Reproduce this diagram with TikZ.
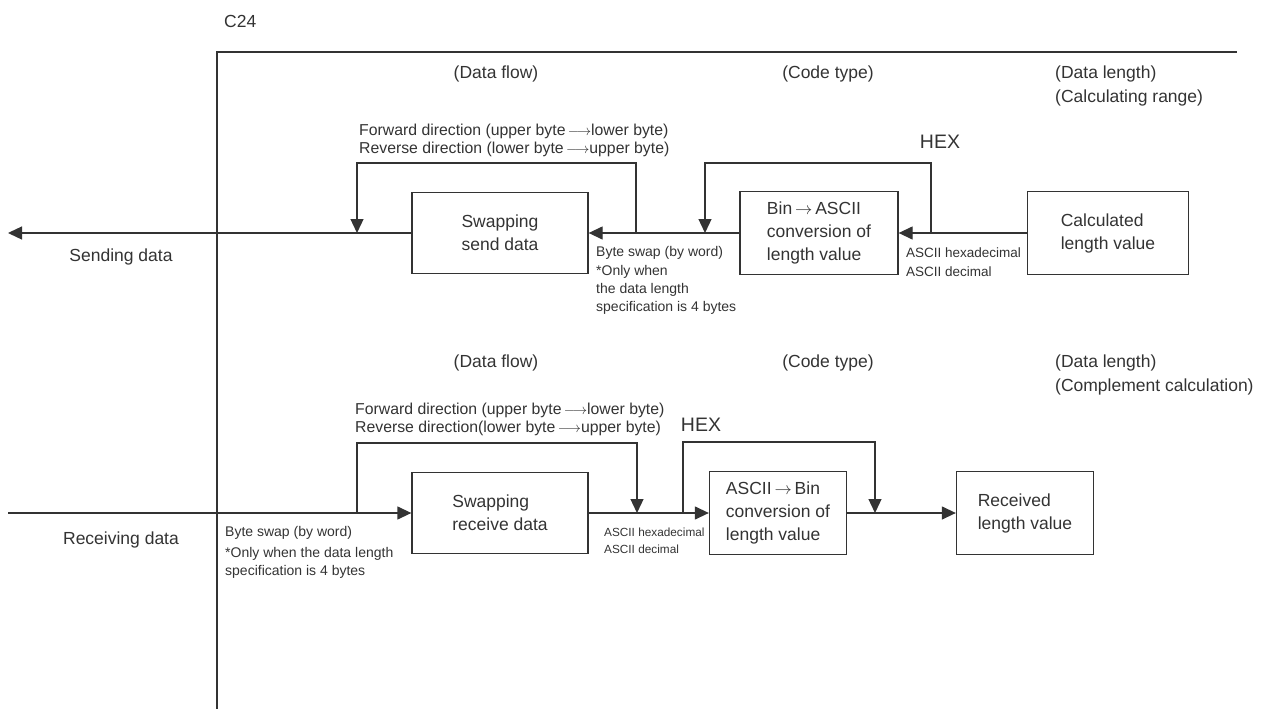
\documentclass[tikz,border=0pt]{standalone}
\usepackage{fontspec}
\setmainfont{Liberation Sans}
\usetikzlibrary{arrows.meta,positioning}
\tikzset{
  ln/.style={line width=1.3pt},
  arr/.style={ln, -{Triangle[length=14pt,width=13pt]}},
  blk/.style={draw, ln, inner sep=0pt, align=left,
              font=\fontsize{17.5}{23}\selectfont},
  head/.style={inner sep=0pt, align=left, font=\fontsize{17.5}{24}\selectfont},
  hextxt/.style={inner sep=0pt, font=\fontsize{19.5}{22}\selectfont},
  dirtxt/.style={inner sep=0pt, anchor=west, align=left,
                 font=\fontsize{15.8}{18}\selectfont},
  notetxt/.style={inner sep=0pt, anchor=west, align=left,
                  font=\fontsize{14}{18}\selectfont},
  codetxt/.style={inner sep=0pt, anchor=west, align=left,
                  font=\fontsize{13.5}{18.5}\selectfont},
}
\begin{document}
\begin{tikzpicture}[x=1pt,y=-1pt,color=black!80]
  \useasboundingbox (0,0) rectangle (1267,709);

  % frame of the C24
  \node[head,anchor=west] (c24) at (224,21) {C24};
  \draw[ln] (217,709) -- (217,52) -- (1237,52);

  % ---- sending side
  \node[head] (hflow1) at (496,74) {(Data flow)};
  \node[head] (hcode1) at (828,74) {(Code type)};
  \node[head,anchor=west] (hlen1) at (1055,86) {(Data length)\\(Calculating range)};

  \node[blk, minimum width=176, minimum height=81] (sendsw) at (500,233) {Swapping\\send data};
  \node[blk, minimum width=158, minimum height=83] (b2a) at (819,233) {Bin$\,\rightarrow\,$ASCII\\conversion of\\length value};
  \node[blk, minimum width=161, minimum height=83] (calc) at (1108,233) {Calculated\\length value};

  \coordinate (sendend) at (8,233);
  \coordinate (swin1) at (357,233);
  \coordinate (swout1) at (636,233);
  \coordinate (hexin1) at (705,233);
  \coordinate (hexout1) at (931,233);

  \draw[arr] (sendsw.west) -- (sendend);
  \draw[arr] (b2a.west) -- (sendsw.east);
  \draw[arr] (calc.west) -- (b2a.east);
  \draw[arr] (swout1) -- ++(0,-70) -| (swin1);
  \draw[arr] (hexout1) -- ++(0,-70) -| (hexin1);

  \node[hextxt] (hex1) at (940,142) {HEX};
  \node[dirtxt] (dir1) at (359,140) {Forward direction (upper byte$\,\longrightarrow$lower byte)\\Reverse direction (lower byte$\,\longrightarrow$upper byte)};
  \node[notetxt] (swap1) at (596,253) {Byte swap (by word)};
  \node[notetxt] (only1) at (596,290) {*Only when\\the data length\\specification is 4 bytes};
  \node[codetxt] (asc1) at (906,262) {ASCII hexadecimal\\ASCII decimal};
  \node[head] (send) at (121,257) {Sending data};

  % ---- receiving side
  \node[head] (hflow2) at (496,363) {(Data flow)};
  \node[head] (hcode2) at (828,363) {(Code type)};
  \node[head,anchor=west] (hlen2) at (1055,375) {(Data length)\\(Complement calculation)};

  \node[blk, minimum width=176, minimum height=81] (recsw) at (500,513) {Swapping\\receive data};
  \node[blk, minimum width=137, minimum height=83] (a2b) at (778,513) {ASCII$\,\rightarrow\,$Bin\\conversion of\\length value};
  \node[blk, minimum width=137, minimum height=83] (rcv) at (1025,513) {Received\\length value};

  \coordinate (recstart) at (8,513);
  \coordinate (swin2) at (357,513);
  \coordinate (swout2) at (637,513);
  \coordinate (hexin2) at (683,513);
  \coordinate (hexout2) at (875,513);

  \draw[arr] (recstart) -- (recsw.west);
  \draw[arr] (recsw.east) -- (a2b.west);
  \draw[arr] (a2b.east) -- (rcv.west);
  \draw[arr] (swin2) -- ++(0,-70) -| (swout2);
  \draw[arr] (hexin2) -- ++(0,-71) -| (hexout2);

  \node[hextxt] (hex2) at (701,425) {HEX};
  \node[dirtxt] (dir2) at (355,419) {Forward direction (upper byte$\,\longrightarrow$lower byte)\\Reverse direction(lower byte$\,\longrightarrow$upper byte)};
  \node[notetxt] (swap2) at (225,533) {Byte swap (by word)};
  \node[notetxt] (only2) at (225,563) {*Only when the data length\\specification is 4 bytes};
  \node[codetxt, font=\fontsize{11.8}{17}\selectfont] (asc2) at (604,541) {ASCII hexadecimal\\ASCII decimal};
  \node[head] (recv) at (121,540) {Receiving data};
\end{tikzpicture}
\end{document}
